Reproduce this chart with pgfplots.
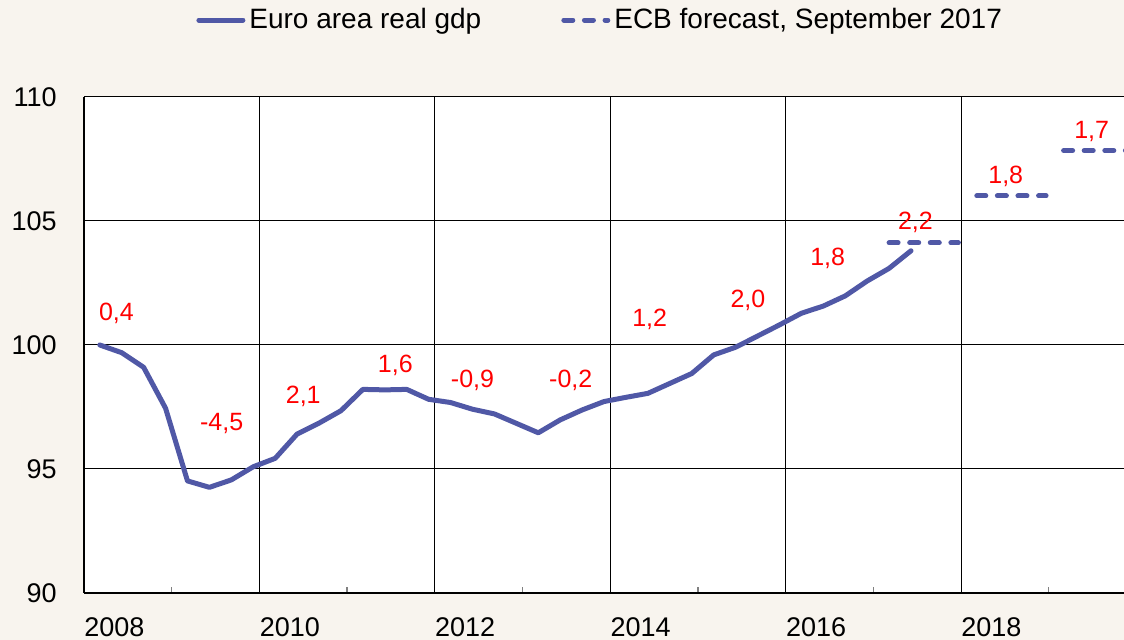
\documentclass[border=0pt]{standalone}
\usepackage{fontspec}
\setmainfont{Liberation Sans}
\usepackage{pgfplots}
\pgfplotsset{compat=1.18}
\definecolor{bg}{RGB}{248,244,238}
\definecolor{eblue}{RGB}{80,88,166}
\definecolor{lred}{RGB}{255,0,0}
\begin{document}
\begin{tikzpicture}
\useasboundingbox (0,0) rectangle (562pt,320pt);
\fill[bg] (0,0) rectangle (562pt,320pt);
\begin{axis}[
 at={(42pt,23.5pt)}, anchor=south west,
 scale only axis, width=526.2pt, height=248pt,
 xmin=2008, xmax=2020, ymin=90, ymax=110,
 axis background/.style={fill=white},
 axis x line*=bottom, axis y line*=left,
 axis line style={line width=1.2pt, -},
 xtick={2008,2010,...,2018}, ytick={90,95,...,110},
 minor xtick={2009,2011,...,2019},
 extra x ticks={2020}, extra x tick labels={},
 extra x tick style={grid=major},
 major tick length=0pt, minor tick length=3pt, tick align=inside,
 minor tick style={gray, line width=0.6pt},
 xmajorgrids, ymajorgrids, major grid style={black, line width=0.5pt},
 /pgf/number format/assume math mode=true,
 /pgf/number format/1000 sep={},
 xticklabel style={anchor=north west, inner sep=0pt, yshift=-12pt, font=\fontsize{13.5}{15}\selectfont},
 yticklabel style={anchor=east, inner sep=0pt, xshift=-13.5pt, font=\fontsize{13.5}{15}\selectfont},
 legend style={draw=none, fill=none, legend columns=2, at={(0.4914,1.1552)}, anchor=center,
   font=\fontsize{14}{16}\selectfont, /tikz/every even column/.append style={column sep=38pt}},
 legend cell align=left,
 legend image code/.code={\draw[#1] (0pt,0pt) -- (22pt,0pt);},
]
\addplot[eblue, line width=2.5pt, line join=round, line cap=round] table {
x y
2008.18 100.00
2008.43 99.69
2008.68 99.10
2008.93 97.45
2009.18 94.52
2009.43 94.26
2009.68 94.56
2009.93 95.09
2010.18 95.43
2010.43 96.41
2010.68 96.85
2010.93 97.35
2011.18 98.21
2011.43 98.19
2011.68 98.21
2011.93 97.81
2012.18 97.68
2012.43 97.41
2012.68 97.22
2012.93 96.84
2013.18 96.46
2013.43 96.98
2013.68 97.38
2013.93 97.72
2014.18 97.89
2014.43 98.05
2014.68 98.45
2014.93 98.85
2015.18 99.60
2015.43 99.91
2015.68 100.36
2015.93 100.81
2016.18 101.28
2016.43 101.57
2016.68 101.98
2016.93 102.58
2017.18 103.09
2017.43 103.80
};
\addlegendentry{Euro area real gdp}
\addplot[eblue, line width=2.5pt, line cap=round, dash pattern=on 4.5pt off 5.8pt, unbounded coords=jump] table {
x y
2017.18 104.12
2017.97 104.12
2018.0 nan
2018.18 106.01
2018.97 106.01
2019.0 nan
2019.17 107.84
2019.97 107.84
};
\addlegendentry{ECB forecast, September 2017}
\node[anchor=base west, inner sep=0pt, yshift=3pt, font=\fontsize{14}{16}\selectfont] at (rel axis cs:0,1) {Index,\ 100 = 2008};
\begin{scope}[every node/.style={text=lred, font=\fontsize{12.5}{14}\selectfont}]
\node at (axis cs:2008.37,101.29) {0,4};
\node at (axis cs:2009.57,96.85) {-4,5};
\node at (axis cs:2010.50,97.94) {2,1};
\node at (axis cs:2011.55,99.19) {1,6};
\node at (axis cs:2012.43,98.56) {-0,9};
\node at (axis cs:2013.55,98.56) {-0,2};
\node at (axis cs:2014.45,101.05) {1,2};
\node at (axis cs:2015.57,101.79) {2,0};
\node at (axis cs:2016.48,103.51) {1,8};
\node at (axis cs:2017.48,104.93) {2,2};
\node at (axis cs:2018.51,106.81) {1,8};
\node at (axis cs:2019.49,108.60) {1,7};
\end{scope}
\end{axis}
\end{tikzpicture}
\end{document}
